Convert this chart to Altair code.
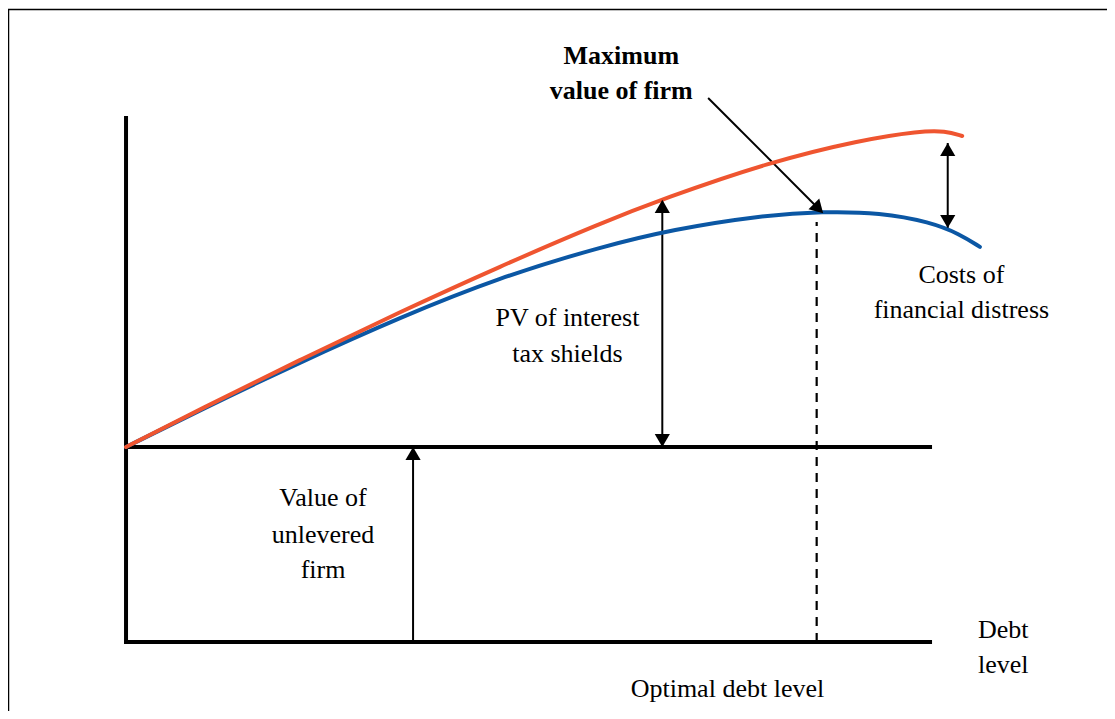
import altair as alt
import pandas as pd

# ---- data (diagram units: x = debt level, y = firm value) ----
orange_x = [0, 9.2, 21.6, 34.1, 46.5, 59.0, 66.8, 80.1, 91.3, 98.8, 101.9, 104.0]
orange_y = [100, 119.3, 144.7, 169.3, 192.6, 214.7, 227.3, 246.2, 257.4, 262.1, 262.1, 259.5]
blue_x = [0, 9.2, 21.6, 34.1, 46.5, 59.0, 68.0, 78.9, 86.7, 93.8, 100.0, 103.7, 106.2]
blue_y = [100, 118.9, 143.4, 166.5, 187.0, 202.6, 211.6, 218.7, 220.8, 220.2, 215.4, 209.2, 202.6]

# axis / reference segments: x, y, x2, y2
seg_x = [0, 0, 0]
seg_y = [0, 0, 100]
seg_x2 = [0, 100, 100]
seg_y2 = [268.7, 0, 100]

# arrows (shafts)
arrow_x = [35.7, 66.7, 102.2, 72.4]
arrow_y = [0, 100, 212.3, 279.0]
arrow_x2 = [35.7, 66.7, 102.2, 86.7]
arrow_y2 = [100, 226.7, 255.9, 219.9]

# arrow heads
up_x = [35.7, 66.7, 102.2]
up_y = [100, 226.7, 255.9]
down_x = [66.7, 102.2]
down_y = [100, 212.3]
diag_x = [86.7]
diag_y = [219.9]

# optimal debt (dashed)
opt_x = [85.9, 85.9]
opt_y = [0, 215.4]

# labels
lab_text = ["Costs of", "financial distress", "PV of interest", "tax shields",
            "Value of", "unlevered", "firm", "Debt", "level", "Optimal debt level"]
lab_x = [103.9, 103.9, 54.9, 54.9, 24.5, 24.5, 24.5, 109.1, 109.1, 74.8]
lab_y = [184.1, 166.2, 162.1, 143.6, 69.7, 50.8, 32.8, 2.1, -15.9, -28.2]
bold_text = ["Maximum", "value of firm"]
bold_x = [61.6, 61.6]
bold_y = [296.4, 278.5]

X_DOMAIN = [-14.68, 122.01]
Y_DOMAIN = [-35.38, 325.13]
W, H = 1099, 703
FONT = "Liberation Serif"

xs = alt.Scale(domain=X_DOMAIN, nice=False, zero=False)
ys = alt.Scale(domain=Y_DOMAIN, nice=False, zero=False)


def X(f="x"):
    return alt.X(f"{f}:Q", scale=xs, axis=None)


def Y(f="y"):
    return alt.Y(f"{f}:Q", scale=ys, axis=None)


segs = pd.DataFrame({"x": seg_x, "y": seg_y, "x2": seg_x2, "y2": seg_y2})
arrows = pd.DataFrame({"x": arrow_x, "y": arrow_y, "x2": arrow_x2, "y2": arrow_y2})

border_top = alt.Chart(pd.DataFrame({"a": [0]})).mark_rule(color="black", strokeWidth=1.5).encode(
    x=alt.value(0), x2=alt.value(W), y=alt.value(1.5))
border_left = alt.Chart(pd.DataFrame({"a": [0]})).mark_rule(color="black", strokeWidth=1.5).encode(
    x=alt.value(0.5), y=alt.value(1.5), y2=alt.value(H))

axes = alt.Chart(segs).mark_rule(color="black", strokeWidth=4, strokeCap="square").encode(
    x=X(), y=Y(), x2="x2:Q", y2="y2:Q")

shafts = alt.Chart(arrows).mark_rule(color="black", strokeWidth=2).encode(
    x=X(), y=Y(), x2="x2:Q", y2="y2:Q")

dashed = alt.Chart(pd.DataFrame({"x": opt_x, "y": opt_y})).mark_line(
    color="black", strokeWidth=2.2, strokeDash=[9, 7]).encode(x=X(), y=Y())

blue = alt.Chart(pd.DataFrame({"x": blue_x, "y": blue_y})).mark_line(
    color="#0B57A4", strokeWidth=4, interpolate="basis", strokeCap="round").encode(x=X(), y=Y())
orange = alt.Chart(pd.DataFrame({"x": orange_x, "y": orange_y})).mark_line(
    color="#EF5530", strokeWidth=4, interpolate="basis", strokeCap="round").encode(x=X(), y=Y())

HEAD = 230
ups = alt.Chart(pd.DataFrame({"x": up_x, "y": up_y})).mark_point(
    shape="triangle-up", filled=True, color="black", size=HEAD, opacity=1, yOffset=6.5).encode(x=X(), y=Y())
downs = alt.Chart(pd.DataFrame({"x": down_x, "y": down_y})).mark_point(
    shape="triangle-up", angle=180, filled=True, color="black", size=HEAD, opacity=1, yOffset=-6.5).encode(x=X(), y=Y())
diag = alt.Chart(pd.DataFrame({"x": diag_x, "y": diag_y})).mark_point(
    shape="triangle-up", angle=135, filled=True, color="black", size=HEAD, opacity=1,
    xOffset=-4.6, yOffset=-4.6).encode(x=X(), y=Y())

labels = alt.Chart(pd.DataFrame({"x": lab_x, "y": lab_y, "t": lab_text})).mark_text(
    font=FONT, fontSize=26, color="black", align="center", baseline="alphabetic").encode(
    x=X(), y=Y(), text="t:N")
bold = alt.Chart(pd.DataFrame({"x": bold_x, "y": bold_y, "t": bold_text})).mark_text(
    font=FONT, fontSize=26, fontWeight="bold", color="black", align="center", baseline="alphabetic").encode(
    x=X(), y=Y(), text="t:N")

chart = alt.layer(
    border_top, border_left, axes, dashed, shafts, blue, orange, ups, downs, diag, labels, bold
).properties(
    width=W, height=H, padding=0, autosize=alt.AutoSizeParams(type="none"),
    background="white"
).configure_view(stroke=None)

chart.save("out.html", embed_options={"renderer": "svg", "actions": False})
